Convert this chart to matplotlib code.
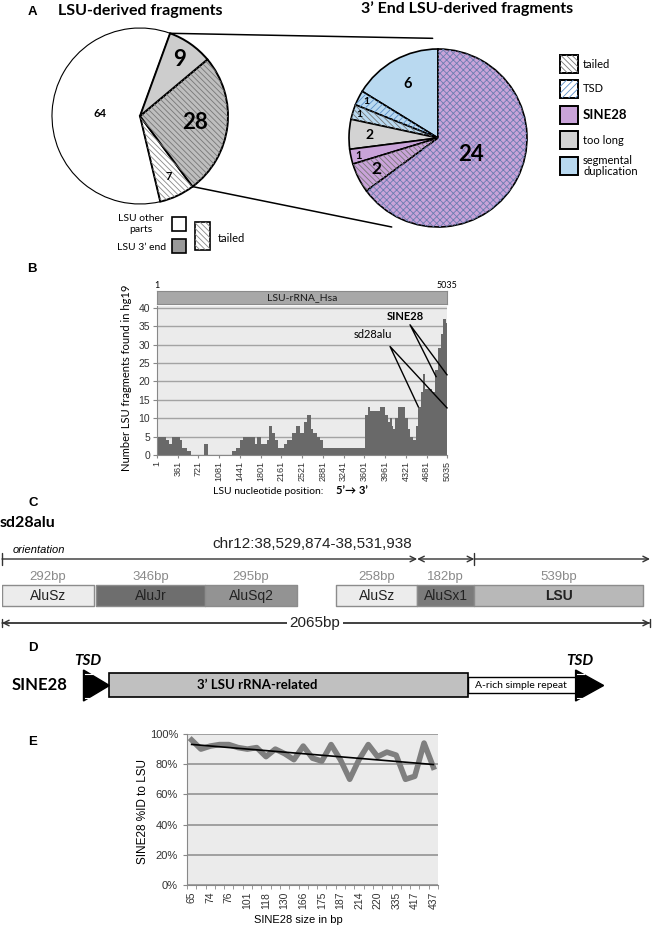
import matplotlib
matplotlib.use('Agg')
import matplotlib.pyplot as plt
from matplotlib.patches import Rectangle, Polygon, Wedge, ConnectionPatch
import numpy as np

W, H = 655, 926
plt.rcParams['font.family'] = ['Liberation Sans', 'DejaVu Sans']
plt.rcParams['hatch.linewidth'] = 0.6
MY = ['Lato', 'DejaVu Sans']

# A: all LSU-derived fragments (counter-clockwise from 70 deg)
lsu_parts = ['other parts', 'tailed', "3' end", "3' end"]
lsu_counts = [64, 7, 28, 9]
# A: 3' end LSU-derived fragments (counter-clockwise from top)
end_parts = ['segmental duplication', 'TSD', 'tailed', 'too long', 'SINE28', 'SINE28 tailed', 'SINE28']
end_counts = [6, 1, 1, 2, 1, 2, 24]

# B: LSU fragments per nucleotide position (step start, count)
pos_start = [1, 157, 214, 255, 400, 440, 516, 586, 822, 892, 1298, 1372, 1442, 1488,
             1702, 1742, 1806, 1905, 1945, 1992, 2050, 2107, 2206, 2264, 2340, 2409,
             2484, 2558, 2600, 2669, 2715, 2773, 2831, 2888, 3612, 3659, 3699, 3873,
             3959, 4006, 4046, 4075, 4103, 4133, 4190, 4306, 4353, 4393, 4451, 4497,
             4537, 4584, 4613, 4653, 4683, 4770, 4827, 4885, 4931, 4971, 5012]
pos_count = [5, 4, 3, 5, 4, 2, 1, 0, 3, 0, 1, 2, 4, 5,
             3, 5, 3, 4, 8, 6, 4, 2, 3, 4, 6, 8,
             6, 9, 11, 7, 6, 5, 4, 2, 11, 13, 12, 13,
             11, 9, 10, 8, 7, 10, 13, 10, 7, 5, 4, 8,
             13, 17, 22, 18, 18, 17, 23, 29, 33, 37, 36]
lsu_ticks = [1, 361, 721, 1081, 1441, 1801, 2161, 2521, 2881, 3241, 3601, 3961, 4321, 4681, 5035]

# C: sd28alu structure
seg_names = ['AluSz', 'AluJr', 'AluSq2', 'AluSz', 'AluSx1', 'LSU']
seg_start = [0, 300, 646, 1065, 1323, 1505]
seg_len = [292, 346, 295, 258, 182, 539]
seg_cols = ['#ececec', '#6e6e6e', '#939393', '#ececec', '#7b7b7b', '#b8b8b8']
total_bp = 2065

# E: SINE28 identity to LSU
sine_pct = [96, 90, 92, 93, 93, 91, 90, 91, 85, 90, 87, 83, 92, 84, 82, 93, 83, 70,
            83, 93, 85, 88, 86, 70, 72, 94, 78]
sine_size_labels = ['65', '74', '76', '101', '118', '130', '166', '175', '187',
                    '214', '220', '335', '417', '437']

DOTS = '\\' * 6
CROSS = 'x' * 5
SLASH = '/' * 5


def rect(x0, y0, x1, y1):
    return [x0 / W, 1 - y1 / H, (x1 - x0) / W, (y1 - y0) / H]


def hatch_over(ax, w, hatch, color):
    ax.add_patch(Wedge(w.center, w.r, w.theta1, w.theta2, facecolor='none',
                       edgecolor=color, lw=0, hatch=hatch))


def label_at(ax, w, txt, r, size):
    a = np.deg2rad((w.theta1 + w.theta2) / 2)
    ax.text(r * np.cos(a), r * np.sin(a), txt, ha='center', va='center',
            fontsize=size, fontweight='bold', family=MY)


def box_patch(ax, x, y, w, h, face, hatch=None, hcol=None, lw=1.2):
    ax.add_patch(Rectangle((x, y), w, h, facecolor=face, edgecolor='black', lw=lw))
    if hatch:
        ax.add_patch(Rectangle((x, y), w, h, facecolor='none', edgecolor=hcol, lw=0, hatch=hatch))


fig = plt.figure(figsize=(W / 100, H / 100), dpi=100)
cv = fig.add_axes([0, 0, 1, 1])
cv.set_xlim(0, W)
cv.set_ylim(H, 0)
cv.axis('off')

for letter, x, y in [('A', 32, 12), ('B', 32, 269), ('C', 33, 503), ('D', 33, 648), ('E', 33, 742)]:
    cv.text(x, y, letter, fontweight='bold', fontsize=9.5, ha='center', va='center')

# ---------------- A ----------------
cv.text(58, 11, 'LSU-derived fragments', fontsize=11.5, fontweight='bold', family=MY, va='center')
cv.text(467, 9, '3’ End LSU-derived fragments', fontsize=11.5, fontweight='bold', family=MY,
        ha='center', va='center')

axL = fig.add_axes(rect(50, 26, 230, 206))
wl, _ = axL.pie(lsu_counts, startangle=70, colors=['white', 'white', '#bebebe', '#cdcdcd'],
                wedgeprops=dict(edgecolor='black', linewidth=0.8))
for w in wl[1:]:
    w.set_linewidth(1.4)
hatch_over(axL, wl[1], DOTS, '#888888')
hatch_over(axL, wl[2], DOTS, '#777777')
axL.set_xlim(-90 / 88, 90 / 88)
axL.set_ylim(-90 / 88, 90 / 88)
for w, v, r, s in zip(wl, lsu_counts, [0.45, 0.76, 0.63, 0.78], [8, 8, 16, 16]):
    label_at(axL, w, str(v), r, s)

axR = fig.add_axes(rect(347, 47, 529, 229))
colsR = ['#b9d9f0', '#b9d9f0', '#b9d9f0', '#d3d3d3', '#c9a3d9', '#c9a3d9', '#c9a3d9']
wr, _ = axR.pie(end_counts, startangle=90, colors=colsR,
                wedgeprops=dict(edgecolor='black', linewidth=1.2))
hatch_over(axR, wr[1], SLASH, '#5a8fc8')
hatch_over(axR, wr[2], DOTS, '#777777')
hatch_over(axR, wr[5], DOTS, '#777777')
hatch_over(axR, wr[6], CROSS, '#6b7db0')
axR.set_xlim(-91 / 89, 91 / 89)
axR.set_ylim(-91 / 89, 91 / 89)
for w, v, r, s in zip(wr, end_counts, [0.7, 0.9, 0.92, 0.77, 0.91, 0.78, 0.42],
                      [10.5, 7.5, 7.5, 10, 8, 12.5, 16]):
    label_at(axR, w, str(v), r, s)

a1 = np.deg2rad(wl[3].theta2)
a2 = np.deg2rad(wl[1].theta2)
for (xa, ya), (xb, yb) in [((np.cos(a1), np.sin(a1)), (-0.06, 1.12)),
                           ((np.cos(a2), np.sin(a2)), (-0.52, -1.0))]:
    fig.add_artist(ConnectionPatch(xyA=(xa, ya), coordsA=axL.transData, xyB=(xb, yb),
                                   coordsB=axR.transData, color='black', lw=1.1))

# left legend
box_patch(cv, 172, 217, 14, 14, 'white')
box_patch(cv, 172, 239, 14, 14, '#999999')
box_patch(cv, 195, 222, 15, 28, 'white', DOTS, '#888888')
cv.text(164, 224, 'LSU other\nparts', ha='right', va='center', multialignment='center',
        fontsize=7.5, family=MY, linespacing=1.15)
cv.text(166, 248, 'LSU 3’ end', ha='right', va='center', fontsize=7.5, family=MY)
cv.text(218, 238, 'tailed', ha='left', va='center', fontsize=8, family=MY)

# right legend
leg = [('tailed', 'white', DOTS, '#777777', 55), ('TSD', 'white', SLASH, '#5a8fc8', 80),
       ('SINE28', '#c9a3d9', None, None, 106), ('too long', '#d3d3d3', None, None, 131),
       ('segmental\nduplication', '#b9d9f0', None, None, 157)]
for lab, face, h, hc, y0 in leg:
    box_patch(cv, 560, y0, 18, 18, face, h, hc, lw=1.4)
    if lab == 'SINE28':
        cv.text(583, y0 + 9, lab, va='center', fontsize=9.5, fontweight='bold', family=MY)
    else:
        cv.text(583, y0 + 9, lab, va='center', fontsize=8, family=MY, linespacing=1.05)

# ---------------- B ----------------
axB = fig.add_axes(rect(157, 306, 447, 455))
axB.set_facecolor('#ebebeb')
xs = pos_start + [5035]
ys = pos_count + [pos_count[-1]]
axB.fill_between(xs, ys, step='post', color='#696969', lw=0, zorder=2)
axB.set_xlim(1, 5035)
axB.set_ylim(0, 40.5)
axB.set_yticks(range(0, 41, 5))
axB.yaxis.grid(True, color='#a3a3a3', lw=1)
axB.set_axisbelow(True)
axB.set_xticks(lsu_ticks)
axB.set_xticklabels([str(t) for t in lsu_ticks], rotation=90, fontsize=6.5)
axB.tick_params(axis='y', labelsize=7.5, length=3, color='#888888', labelcolor='#333333', pad=2)
axB.tick_params(axis='x', length=2, pad=2, color='#888888', labelcolor='#333333')
for sp in ['top', 'right']:
    axB.spines[sp].set_visible(False)
for sp in ['left', 'bottom']:
    axB.spines[sp].set_color('#888888')

axB.text(4306, 37.6, 'SINE28', fontsize=8, fontweight='bold', family=MY, ha='center', va='center')
axB.text(3756, 32.7, 'sd28alu', fontsize=8, family=MY, ha='center', va='center')
axB.plot([4845, 4393, 5035], [21.3, 35.4, 21.8], color='black', lw=1, clip_on=False, zorder=3)
axB.plot([4537, 4046, 5035], [13.1, 29.5, 12.8], color='black', lw=1, clip_on=False, zorder=3)

axH = fig.add_axes(rect(157, 291, 447, 304))
axH.set_facecolor('#a8a8a8')
axH.set_xticks([])
axH.set_yticks([])
for sp in axH.spines.values():
    sp.set_color('#8a8a8a')
axH.text(0.5, 0.5, 'LSU-rRNA_Hsa', transform=axH.transAxes, ha='center', va='center',
         fontsize=7.5, family=MY, color='#1a1a1a')
cv.text(157, 285, '1', fontsize=6.5, ha='center', va='center', family=MY)
cv.text(447, 286, '5035', fontsize=6.5, ha='center', va='center', family=MY)
cv.text(127, 378, 'Number LSU fragments found in hg19', rotation=90, ha='center', va='center',
        fontsize=8, family=MY)
cv.text(213, 491, 'LSU nucleotide position:', ha='left', va='center', fontsize=7.5, family=MY)
cv.text(336, 491, '5’→ 3’', ha='left', va='center', fontsize=8, fontweight='bold', family=MY)

# ---------------- C ----------------
cv.text(0, 523, 'sd28alu', fontsize=11.5, fontweight='bold', family=MY, va='center')
cv.text(39, 550, 'orientation', fontsize=8, style='italic', ha='center', va='center')

axC = fig.add_axes(rect(2, 530, 650, 635))
axC.set_xlim(0, total_bp)
axC.set_ylim(635, 530)
axC.axis('off')
for name, s, l, c in zip(seg_names, seg_start, seg_len, seg_cols):
    axC.broken_barh([(s, l)], (585, 21), facecolors=c, edgecolors='#8c8c8c', linewidth=1)
    axC.text(s + l / 2, 596, name, ha='center', va='center', fontsize=10, color='#222222',
             fontweight='bold' if name == 'LSU' else 'normal')
    axC.text(s + l / 2, 577, f'{l}bp', ha='center', va='center', fontsize=9.5, color='#8a8a8a')

arr = dict(lw=1, color='#333333', shrinkA=0, shrinkB=0)
axC.annotate('', xy=(seg_start[4], 559), xytext=(0, 559),
             arrowprops=dict(arrowstyle=']->,widthA=0.4,lengthA=0', **arr))
axC.annotate('', xy=(seg_start[5], 559), xytext=(seg_start[4], 559),
             arrowprops=dict(arrowstyle='<->', **arr))
axC.annotate('', xy=(total_bp, 559), xytext=(seg_start[5], 559),
             arrowprops=dict(arrowstyle=']->,widthA=0.4,lengthA=0', **arr))
axC.text(988, 544, 'chr12:38,529,874-38,531,938', ha='center', va='center', fontsize=11, color='#222222')
axC.annotate('', xy=(total_bp, 623), xytext=(0, 623),
             arrowprops=dict(arrowstyle='|-|,widthA=0.3,widthB=0.3', **arr))
axC.annotate('', xy=(total_bp, 623), xytext=(0, 623), arrowprops=dict(arrowstyle='<->', **arr))
axC.text(997, 623, f'{total_bp}bp', ha='center', va='center', fontsize=11, color='#222222',
         bbox=dict(facecolor='white', edgecolor='none', pad=2))

# ---------------- D ----------------
axD = fig.add_axes(rect(0, 655, 655, 710))
axD.set_xlim(0, W)
axD.set_ylim(710, 655)
axD.axis('off')
axD.add_patch(Rectangle((109.4, 672.7), 358.6, 24, facecolor='#c0c0c0', edgecolor='black', lw=1.2))
axD.add_patch(Rectangle((468, 676.7), 107.6, 16, facecolor='white', edgecolor='black', lw=1))
axD.add_patch(Polygon([(83.5, 670), (83.5, 701), (109.4, 685.5)], color='black'))
axD.add_patch(Polygon([(575.6, 670), (575.6, 701), (603.6, 685.5)], color='black'))
for xt in [83.5, 575.6]:
    axD.plot([xt + 1, xt + 8], [673.5, 673.5], color='white', lw=0.8)
    axD.plot([xt + 1, xt + 8], [697.5, 697.5], color='white', lw=0.8)
axD.text(257, 685, '3’ LSU rRNA-related', ha='center', va='center', fontsize=9.5,
         fontweight='bold', family=MY)
axD.text(521, 685, 'A-rich simple repeat', ha='center', va='center', fontsize=7.5, family=MY)
cv.text(12, 685, 'SINE28', fontsize=12, fontweight='bold', family=MY, va='center')
for xt in [88, 580]:
    cv.text(xt, 661, 'TSD', fontsize=11, fontweight='bold', style='italic', family=MY,
            ha='center', va='center')

# ---------------- E ----------------
axE = fig.add_axes(rect(187, 734, 438, 885))
axE.set_facecolor('#ebebeb')
x = np.arange(len(sine_pct))
y = np.array(sine_pct) / 100
axE.plot(x, y, color='#7f7f7f', lw=4, solid_joinstyle='round', zorder=3)
coef = np.polyfit(x, y, 1)
axE.plot(x, np.polyval(coef, x), color='black', lw=1.2, zorder=4)
axE.set_xlim(-0.5, len(sine_pct) - 0.5)
axE.set_ylim(0, 1)
yt = np.arange(0, 1.01, 0.2)
axE.set_yticks(yt)
axE.set_yticklabels([f'{int(round(v * 100))}%' for v in yt])
axE.yaxis.grid(True, color='#9a9a9a', lw=1.3)
axE.set_axisbelow(True)
axE.set_xticks(x[::2])
axE.set_xticklabels(sine_size_labels, rotation=90, fontsize=7.5)
axE.set_xticks(np.arange(-0.5, len(sine_pct), 1), minor=True)
axE.tick_params(axis='x', which='major', length=0, pad=5, labelcolor='#333333')
axE.tick_params(axis='x', which='minor', length=3, color='#888888')
axE.tick_params(axis='y', labelsize=8, length=3, color='#888888', labelcolor='#333333')
for sp in ['top', 'right']:
    axE.spines[sp].set_visible(False)
for sp in ['left', 'bottom']:
    axE.spines[sp].set_color('#888888')
cv.text(143, 811, 'SINE28 %ID to LSU', rotation=90, ha='center', va='center', fontsize=8.5)
cv.text(298, 920, 'SINE28 size in bp', ha='center', va='center', fontsize=8)

fig.savefig('out.png', dpi=100)
